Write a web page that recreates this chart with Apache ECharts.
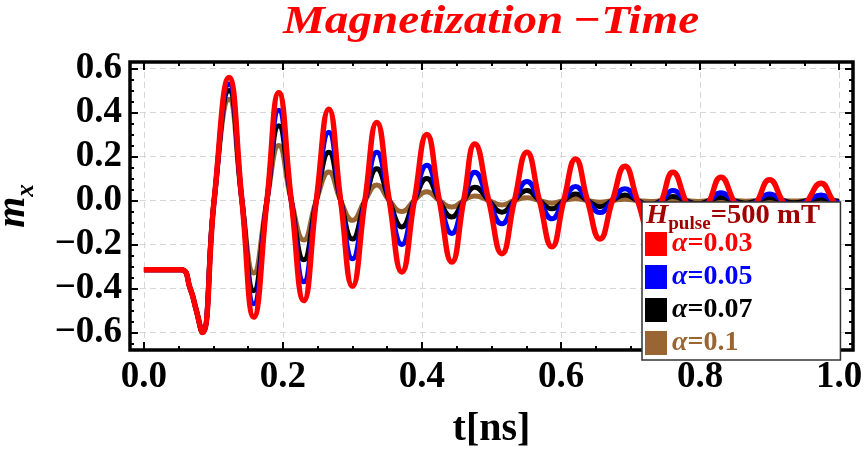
<!DOCTYPE html>
<html><head><meta charset="utf-8">
<script src="https://cdn.jsdelivr.net/npm/echarts@6/dist/echarts.min.js"></script>
<style>html,body{margin:0;padding:0;background:#fff}#c{width:864px;height:458px}</style>
</head><body><div id="c"></div>
<script>
// time points (ns): flat start, first dip, then extrema / zero crossings
const times = [0, 0.053, 0.0665, 0.0746, 0.084, 0.101, 0.1225,
  0.141, 0.158, 0.177, 0.194, 0.212, 0.230, 0.248, 0.266, 0.283, 0.300,
  0.318, 0.335, 0.353, 0.371, 0.389, 0.407, 0.425, 0.443, 0.460, 0.476,
  0.496, 0.515, 0.533, 0.551, 0.569, 0.587, 0.604, 0.621, 0.638, 0.656,
  0.674, 0.692, 0.710, 0.728, 0.745, 0.761, 0.779, 0.797, 0.814, 0.830,
  0.848, 0.866, 0.883, 0.900, 0.918, 0.935, 0.955, 0.974, 0.991, 1.0];

const mxA003 = [-0.315, -0.315, -0.40, -0.49, -0.60, 0, 0.56,
  0, -0.53, 0, 0.49, 0, -0.455, 0, 0.415, 0, -0.39,
  0, 0.355, 0, -0.325, 0, 0.30, 0, -0.28, 0, 0.257,
  0, -0.242, 0, 0.219, 0, -0.21, 0, 0.189, 0, -0.175,
  0, 0.156, 0, -0.145, 0, 0.128, 0, -0.125, 0, 0.106,
  0, -0.11, 0, 0.094, 0, -0.095, 0, 0.079, 0, -0.04];

const mxA005 = [-0.315, -0.315, -0.40, -0.49, -0.60, 0, 0.53,
  0, -0.47, 0, 0.41, 0, -0.37, 0, 0.31, 0, -0.265,
  0, 0.22, 0, -0.20, 0, 0.16, 0, -0.15, 0, 0.128,
  0, -0.106, 0, 0.086, 0, -0.083, 0, 0.064, 0, -0.055,
  0, 0.054, 0, -0.045, 0, 0.045, 0, -0.04, 0, 0.035,
  0, -0.032, 0, 0.03, 0, -0.028, 0, 0.025, 0, -0.012];

const mxA007 = [-0.315, -0.315, -0.40, -0.49, -0.60, 0, 0.50,
  0, -0.41, 0, 0.34, 0, -0.27, 0, 0.22, 0, -0.175,
  0, 0.145, 0, -0.12, 0, 0.10, 0, -0.075, 0, 0.06,
  0, -0.053, 0, 0.045, 0, -0.038, 0, 0.03, 0, -0.028,
  0, 0.025, 0, -0.02, 0, 0.018, 0, -0.015, 0, 0.014,
  0, -0.012, 0, 0.012, 0, -0.01, 0, 0.01, 0, -0.005];

const mxA010 = [-0.315, -0.315, -0.40, -0.49, -0.60, 0, 0.46,
  0, -0.33, 0, 0.25, 0, -0.18, 0, 0.13, 0, -0.09,
  0, 0.07, 0, -0.05, 0, 0.04, 0, -0.03, 0, 0.02,
  0, -0.02, 0, 0.012, 0, -0.012, 0, 0.008, 0, -0.008,
  0, 0.006, 0, -0.005, 0, 0.004, 0, -0.004, 0, 0.003,
  0, -0.003, 0, 0.003, 0, -0.002, 0, 0.002, 0, -0.001];

const seriesNames = ['α=0.03', 'α=0.05', 'α=0.07', 'α=0.1'];
const seriesColors = ['#ff0000', '#0000ff', '#000000', '#996633'];
const xMajorTicks = [0, 0.2, 0.4, 0.6, 0.8, 1.0];
const xMinorTicks = [0.05, 0.1, 0.15, 0.25, 0.3, 0.35, 0.45, 0.5, 0.55, 0.65, 0.7, 0.75, 0.85, 0.9, 0.95];
const yMajorTicks = [-0.6, -0.4, -0.2, 0, 0.2, 0.4, 0.6];
const yMinorTicks = [-0.65, -0.55, -0.5, -0.45, -0.35, -0.3, -0.25, -0.15, -0.1, -0.05, 0.05, 0.1, 0.15, 0.25, 0.3, 0.35, 0.45, 0.5, 0.55];

const FONT = '"Liberation Serif", "Times New Roman", serif';
const X_MIN = -0.02, X_MAX = 1.02, Y_MIN = -0.68, Y_MAX = 0.63;

function fmt(v) {
  if (Math.abs(v) < 1e-9) v = 0;
  return v.toFixed(1).replace('-', '\u2212');
}
function tickAxis(pos, ticks, len, isX) {
  return {
    type: 'value', position: pos, min: isX ? X_MIN : Y_MIN, max: isX ? X_MAX : Y_MAX,
    axisLine: { show: false, onZero: false },
    axisTick: { show: true, inside: true, length: len, customValues: ticks, lineStyle: { color: '#000', width: 2 } },
    axisLabel: { show: false },
    splitLine: { show: false },
    minorTick: { show: false }, minorSplitLine: { show: false }
  };
}

const labelStyle = { color: '#000', fontFamily: FONT, fontWeight: 'bold', fontSize: 37 };
const gridLine = { show: true, lineStyle: { color: '#d6d6d6', type: [6, 4], width: 1 } };

const xMain = Object.assign(tickAxis('bottom', xMajorTicks, 8, true), {
  splitNumber: 5,
  axisLabel: Object.assign({ show: true, customValues: xMajorTicks, formatter: fmt, margin: 9 }, labelStyle),
  splitLine: gridLine,
  name: 't[ns]', nameLocation: 'middle', nameGap: 60,
  nameTextStyle: { color: '#000', fontFamily: FONT, fontWeight: 'bold', fontSize: 40 }
});
const yMain = Object.assign(tickAxis('left', yMajorTicks, 8, false), {
  splitNumber: 6,
  axisLabel: Object.assign({ show: true, customValues: yMajorTicks, formatter: fmt, margin: 8 }, labelStyle),
  splitLine: gridLine,
  name: '{m|m}{x|x}', nameLocation: 'middle', nameRotate: 90, nameGap: 96,
  nameTextStyle: {
    rich: {
      m: { fontFamily: FONT, fontStyle: 'italic', fontWeight: 'bold', fontSize: 40, lineHeight: 40, verticalAlign: 'top', color: '#000' },
      x: { fontFamily: FONT, fontStyle: 'italic', fontWeight: 'bold', fontSize: 25, lineHeight: 25, verticalAlign: 'top', padding: [20, 0, 0, 0], color: '#000' }
    }
  }
});

const richLegend = {};
const keys = ['r', 'b', 'k', 'n'];
keys.forEach((k, i) => {
  richLegend['a' + k] = { color: seriesColors[i], fontFamily: FONT, fontStyle: 'italic', fontWeight: 'bold', fontSize: 28, lineHeight: 24 };
  richLegend['v' + k] = { color: seriesColors[i], fontFamily: FONT, fontWeight: 'bold', fontSize: 28, lineHeight: 24 };
});

const valueSets = [mxA003, mxA005, mxA007, mxA010];
const series = [3, 2, 1, 0].map(i => ({
  name: seriesNames[i], type: 'line', smooth: true, showSymbol: false, symbol: 'none',
  color: seriesColors[i], z: 2 + (3 - i),
  lineStyle: { color: seriesColors[i], width: i === 0 ? 5.5 : 5 },
  data: times.map((t, j) => [t, valueSets[i][j]]),
  animation: false
}));

const chart = echarts.init(document.getElementById('c'), null, { renderer: 'canvas' });
chart.setOption({
  animation: false,
  backgroundColor: '#fff',
  grid: { left: 130, right: 11, top: 62, bottom: 108, show: true, borderColor: '#000', borderWidth: 3.5,
          backgroundColor: 'rgba(0,0,0,0)', containLabel: false, outerBoundsMode: 'none' },
  xAxis: [xMain, tickAxis('bottom', xMinorTicks, 4, true), tickAxis('top', xMajorTicks, 8, true), tickAxis('top', xMinorTicks, 4, true)],
  yAxis: [yMain, tickAxis('left', yMinorTicks, 4, false), tickAxis('right', yMajorTicks, 8, false), tickAxis('right', yMinorTicks, 4, false)],
  legend: {
    data: seriesNames, orient: 'vertical', left: 642, top: 202, z: 20,
    icon: 'rect', itemWidth: 22, itemHeight: 24, itemGap: 5,
    padding: [28, 88, 3, 3], backgroundColor: '#fff', borderColor: '#333', borderWidth: 1.5,
    selectedMode: false,
    textStyle: { fontFamily: FONT, fontWeight: 'bold', fontSize: 28, lineHeight: 24, rich: richLegend },
    formatter: name => {
      const k = keys[seriesNames.indexOf(name)];
      return '{a' + k + '|α}{v' + k + '|' + name.slice(1) + '}';
    }
  },
  graphic: [
    { type: 'text', x: 491, y: 2, z: 100, scaleX: 1.15,
      style: { text: 'Magnetization\u2009\u2212Time', fill: '#ff0000', font: 'italic bold 41px "Liberation Serif"', align: 'center', verticalAlign: 'top' } },
    { type: 'text', x: 646, y: 203, z: 100, scaleX: 1.06,
      style: { text: '{h|H}{s|pulse}{e|=500 mT}',
        rich: {
          h: { fill: '#a00000', fontFamily: FONT, fontStyle: 'italic', fontWeight: 'bold', fontSize: 27, lineHeight: 27, verticalAlign: 'top' },
          s: { fill: '#a00000', fontFamily: FONT, fontWeight: 'bold', fontSize: 18, lineHeight: 18, verticalAlign: 'top', padding: [12, 0, 0, 0] },
          e: { fill: '#a00000', fontFamily: FONT, fontWeight: 'bold', fontSize: 27, lineHeight: 27, verticalAlign: 'top' }
        } } }
  ],
  series: series
});
</script></body></html>
